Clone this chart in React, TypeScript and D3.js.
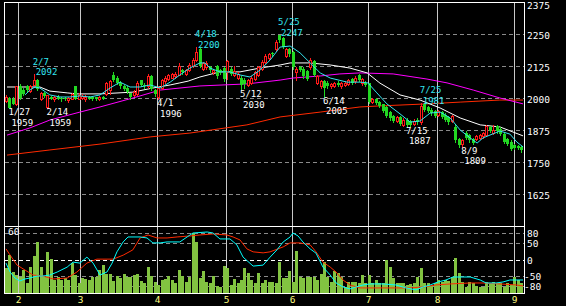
import React from "react";
import * as d3 from "d3";

const W = 566;
const H = 306;

const monthLabels = ["2", "3", "4", "5", "6", "7", "8", "9"];
const monthStartIdx = [3.5, 21.5, 43.7, 63.7, 82.8, 104.7, 124.7, 147];
const priceTicks = [2375, 2250, 2125, 2000, 1875, 1750, 1625];
const oscTicks = [80, 50, 0, -50, -80];

// [open, high, low, close]
const ohlc: number[][] = [
  [1990, 2010, 1985, 2005], [2000, 2002, 1959, 1962], [1998, 2005, 1975, 1978], [1975, 2048, 1972, 2045],
  [2045, 2055, 1995, 2000], [2030, 2040, 2010, 2015], [2045, 2050, 2025, 2030], [2028, 2050, 2025, 2045],
  [2052, 2092, 2050, 2070], [2072, 2075, 2030, 2035], [1995, 2025, 1992, 2020], [2020, 2022, 2004, 2008],
  [1965, 2012, 1959, 2010], [2005, 2008, 1995, 1998], [1995, 2008, 1990, 2005], [2005, 2010, 1995, 1998],
  [2000, 2003, 1990, 1995], [2000, 2002, 1993, 1995], [1992, 2005, 1985, 2000], [1998, 2020, 1995, 2015],
  [2045, 2048, 1995, 1998], [1998, 2020, 1995, 2010], [2000, 2015, 1998, 2008], [1998, 2010, 1990, 2005],
  [2005, 2008, 1995, 1998], [2002, 2005, 1993, 1996], [2002, 2005, 1992, 1995], [1995, 2008, 1992, 2003],
  [2005, 2008, 1995, 1998], [2015, 2062, 2012, 2060], [2030, 2072, 2015, 2068], [2088, 2100, 2068, 2070],
  [2080, 2085, 2055, 2060], [2060, 2065, 2040, 2045], [2045, 2050, 2030, 2035], [2040, 2045, 2018, 2022],
  [2018, 2020, 1998, 2005], [2012, 2030, 2008, 2025], [2015, 2065, 2010, 2060], [2070, 2072, 2045, 2050],
  [2050, 2058, 2040, 2045], [2045, 2094, 2040, 2085], [2085, 2090, 2030, 2035], [2030, 2035, 2008, 2015],
  [2005, 2045, 1996, 2040], [2040, 2075, 2035, 2070], [2065, 2085, 2060, 2080], [2075, 2095, 2070, 2090],
  [2080, 2098, 2078, 2092], [2085, 2100, 2080, 2095], [2090, 2135, 2088, 2125], [2110, 2115, 2095, 2100],
  [2095, 2115, 2090, 2110], [2110, 2135, 2105, 2130], [2125, 2155, 2120, 2150], [2150, 2200, 2145, 2178],
  [2190, 2195, 2120, 2125], [2115, 2140, 2110, 2135], [2120, 2145, 2115, 2138], [2120, 2125, 2100, 2108],
  [2100, 2115, 2095, 2110], [2125, 2130, 2080, 2085], [2110, 2115, 2095, 2100], [2118, 2120, 2068, 2075],
  [2100, 2150, 2075, 2145], [2115, 2120, 2090, 2095], [2090, 2125, 2085, 2105], [2080, 2100, 2075, 2095],
  [2080, 2085, 2030, 2050], [2070, 2080, 2040, 2055], [2050, 2075, 2045, 2070], [2060, 2085, 2055, 2080],
  [2075, 2105, 2070, 2100], [2090, 2125, 2085, 2120], [2115, 2150, 2110, 2140], [2140, 2170, 2135, 2165],
  [2155, 2175, 2150, 2170], [2175, 2180, 2165, 2170], [2190, 2225, 2185, 2220], [2245, 2247, 2220, 2225],
  [2235, 2240, 2195, 2200], [2165, 2195, 2160, 2190], [2190, 2195, 2165, 2170], [2180, 2185, 2115, 2120],
  [2100, 2120, 2070, 2115], [2120, 2125, 2105, 2110], [2115, 2120, 2080, 2085], [2105, 2110, 2070, 2075],
  [2120, 2155, 2115, 2150], [2145, 2150, 2085, 2090], [2060, 2090, 2055, 2085], [2045, 2070, 2040, 2065],
  [2065, 2070, 2005, 2040], [2060, 2065, 2040, 2045], [2045, 2060, 2040, 2055], [2048, 2062, 2042, 2058],
  [2060, 2065, 2045, 2050], [2045, 2062, 2040, 2058], [2050, 2068, 2045, 2060], [2055, 2075, 2050, 2070],
  [2075, 2080, 2055, 2060], [2065, 2085, 2060, 2080], [2090, 2095, 2065, 2070], [2060, 2080, 2050, 2075],
  [2060, 2065, 2045, 2050], [2058, 2060, 1980, 1985], [1985, 2000, 1980, 1995], [1995, 2000, 1975, 1980],
  [1985, 1990, 1965, 1970], [1975, 1978, 1945, 1950], [1965, 1970, 1925, 1930], [1945, 1950, 1915, 1920],
  [1930, 1935, 1905, 1910], [1912, 1930, 1905, 1925], [1925, 1930, 1895, 1900], [1895, 1920, 1890, 1915],
  [1915, 1920, 1887, 1895], [1910, 1915, 1890, 1895], [1898, 1918, 1893, 1912], [1915, 1920, 1900, 1905],
  [1905, 1981, 1900, 1970], [1975, 1980, 1950, 1955], [1965, 1970, 1945, 1950], [1955, 1960, 1935, 1940],
  [1950, 1955, 1925, 1930], [1935, 1955, 1930, 1950], [1945, 1950, 1920, 1925], [1935, 1940, 1910, 1915],
  [1925, 1930, 1900, 1905], [1910, 1935, 1905, 1930], [1885, 1900, 1830, 1835], [1840, 1845, 1810, 1815],
  [1820, 1840, 1809, 1835], [1865, 1870, 1840, 1845], [1855, 1860, 1830, 1835], [1838, 1842, 1820, 1825],
  [1840, 1855, 1835, 1850], [1845, 1860, 1840, 1855], [1850, 1868, 1845, 1862], [1855, 1895, 1850, 1890],
  [1885, 1890, 1868, 1872], [1865, 1895, 1860, 1875], [1890, 1895, 1865, 1870], [1880, 1885, 1855, 1860],
  [1860, 1865, 1825, 1830], [1840, 1845, 1815, 1820], [1830, 1835, 1795, 1800], [1815, 1820, 1800, 1805],
  [1812, 1818, 1800, 1805], [1808, 1812, 1790, 1795],
];

const volume: number[] = [
  25, 38, 21, 18, 16, 23, 10, 26, 37, 51, 26, 16, 41, 34, 13, 16, 13, 15, 13, 30,
  18, 10, 15, 14, 13, 16, 16, 23, 28, 19, 19, 12, 17, 15, 19, 16, 16, 18, 19, 12,
  10, 26, 17, 11, 8, 13, 14, 17, 13, 10, 23, 17, 11, 16, 60, 51, 15, 22, 11, 10,
  17, 7, 6, 27, 25, 8, 14, 10, 13, 25, 20, 13, 10, 20, 10, 13, 11, 11, 10, 31, 15,
  15, 22, 11, 42, 16, 15, 16, 16, 16, 13, 19, 31, 16, 11, 22, 20, 16, 6, 11, 11,
  11, 10, 18, 10, 18, 10, 13, 10, 10, 33, 26, 15, 10, 10, 10, 8, 9, 10, 16, 25,
  10, 10, 7, 10, 13, 11, 13, 12, 16, 35, 20, 11, 6, 11, 10, 7, 6, 6, 11, 9,
  11, 10, 10, 6, 10, 8, 16, 13, 10,
];

// moving averages, [day index, price]
const maShort: number[][] = [
  [5.5, 2012], [6.9, 2031], [8.4, 2043], [9.8, 2039], [12.7, 2012], [15.6, 2004], [18.5, 2004],
  [21.4, 2008], [24.3, 2004], [27.2, 2012], [30.1, 2039], [33, 2062], [35.9, 2043], [38.8, 2043],
  [41.7, 2051], [44.6, 2039], [47.5, 2062], [50.3, 2090], [53.2, 2117], [56.1, 2137], [57.6, 2137],
  [59, 2117], [61.9, 2102], [64.8, 2102], [67.7, 2090], [70.6, 2082], [73.5, 2109], [76.4, 2148],
  [79.3, 2199], [82.2, 2203], [85.1, 2176], [88, 2137], [90.9, 2098], [93.8, 2078], [98.7, 2062],
  [102.4, 2062], [104.7, 2059], [107.3, 2020], [110.2, 1977], [114, 1938], [116.9, 1906],
  [119.8, 1910], [122.7, 1941], [125.6, 1945], [128.5, 1922], [131.4, 1875], [134.3, 1844],
  [136.3, 1824], [138, 1844], [142.9, 1871], [145.8, 1859], [147.8, 1828], [149.6, 1809],
];
const maMid: number[][] = [
  [0.3, 2043], [9.8, 2043], [12.7, 2027], [17.7, 2020], [20.5, 2016], [27.2, 2016], [36.7, 2023],
  [42.5, 2039], [47.5, 2051], [50.3, 2059], [52.7, 2066], [56.1, 2082], [61.9, 2102], [67.7, 2102],
  [73.5, 2117], [79.3, 2129], [82.2, 2137], [88, 2137], [93.8, 2129], [99.5, 2117], [104.5, 2098],
  [108.2, 2058], [114, 2012], [119.8, 1992], [125.6, 1961], [131.4, 1922], [137.2, 1895],
  [142.9, 1887], [146.7, 1867], [149.6, 1852],
];
const maLong: number[][] = [
  [0.3, 1855], [6.9, 1883], [12.7, 1914], [21.4, 1945], [27.2, 1965], [36.7, 2000], [44.6, 2031],
  [56.1, 2047], [69.7, 2055], [79.3, 2070], [83, 2078], [90.9, 2086], [96.6, 2094], [102.4, 2098],
  [112, 2094], [121.8, 2074], [127.6, 2059], [135.2, 2031], [142.9, 2000], [149.6, 1977],
];
const maVeryLong: number[][] = [
  [0.3, 1777], [12.7, 1797], [27.2, 1820], [41.7, 1848], [53.2, 1863], [69.7, 1895], [79.3, 1926],
  [90.9, 1945], [102.4, 1965], [108.2, 1969], [121.8, 1977], [131.4, 1984], [142.9, 1992], [149.6, 1992],
];

// oscillators, [day index, value]
const oscCyan: number[][] = [
  [0, -10], [1.2, -37], [2.6, -55], [4, -64], [5.5, -58], [6.9, -55], [9, -49], [10.7, -49],
  [12.7, -46], [14.8, -37], [17.7, -22], [19.4, -7], [21.4, -10], [23.4, 8], [25.2, -10], [27.2, -46],
  [29.2, -37], [30.7, -10], [32.1, 24], [33.9, 54], [35.3, 69], [38.8, 69], [40.8, 66], [42.5, 51],
  [44.6, 51], [46.6, 54], [50.3, 54], [52.4, 69], [54.1, 81], [58.2, 84], [59.9, 81], [61.9, 63],
  [64.8, 63], [66.8, 45], [68.6, 8], [71.5, -19], [74.4, -16], [76.4, 8], [78.4, 30], [80.2, 54],
  [82.2, 69], [83, 81], [84.5, 72], [85.9, 54], [88, 33], [89.7, 20], [91.7, -22], [93.8, -46],
  [95.5, -70], [97.5, -82], [99.5, -88], [101.3, -82], [103.3, -76], [105.3, -73], [109.1, -73],
  [112.8, -76], [115.7, -85], [118.6, -91], [120.7, -82], [122.7, -76], [125, -67], [127.3, -61],
  [129.3, -52], [134.3, -52], [137.2, -61], [138.9, -70], [141.8, -70], [143.8, -67], [145.8, -61],
  [149.6, -61],
];
const oscRed: number[][] = [
  [0, 33], [1.2, 14], [3.2, -16], [5.5, -31], [7.8, -46], [10.7, -49], [13.6, -58], [17.7, -55],
  [20.5, -37], [23.4, -10], [26.3, 2], [31, 2], [33.9, 14], [36.7, 30], [38.8, 66], [41.1, 75],
  [43.7, 66], [46.6, 66], [49.5, 69], [53.2, 72], [56.1, 75], [59.9, 78], [63.9, 75], [65.7, 69],
  [67.7, 60], [69.7, 33], [71.5, 24], [74.4, 21], [76.4, 24], [80.2, 39], [82.2, 51], [85.1, 51],
  [88, 45], [89.7, 24], [91.7, -7], [93.8, -22], [95.5, -37], [97.5, -61], [99.5, -76], [102.4, -85],
  [109.1, -85], [116.9, -85], [120.7, -82], [124.4, -76], [128.5, -73], [134.3, -70], [138, -70],
  [142.9, -73], [147.6, -76], [149.6, -79],
];

// annotations: [date, price, day index, kind]
const notes: [string, number, number, string][] = [
  ["1/27", 1959, 1, "low"], ["2/7", 2092, 8, "high"], ["2/14", 1959, 12, "low"],
  ["4/1", 1996, 44, "low"], ["4/18", 2200, 55, "high"], ["5/12", 2030, 68, "low"],
  ["5/25", 2247, 79, "high"], ["6/14", 2005, 92, "low"], ["7/15", 1887, 116, "low"],
  ["7/25", 1981, 120, "high"], ["8/9", 1809, 132, "low"],
];

const FONT = "'DejaVu Sans Mono', monospace";
const UP = "#ff1a1a";
const DOWN = "#22d822";

export default function App() {
  const L = 4, R = 524, T = 2, MB = 226, B = 293;
  const x = d3.scaleLinear().domain([0, 149]).range([6, 521]);
  const y = d3.scaleLinear().domain([1500, 2375]).range([MB, T]);
  const yo = d3.scaleLinear().domain([-100, 100]).range([292.9, 226.7]);
  const yv = d3.scaleLinear().domain([0, 62]).range([B, 231]);

  const mkLine = (ys: d3.ScaleLinear<number, number>) =>
    d3.line<number[]>().x((d) => x(d[0])).y((d) => ys(d[1]));
  const pl = mkLine(y);
  const ol = mkLine(yo);

  const px = (i: number) => Math.round(x(i));

  return (
    <svg width={W} height={H} style={{ position: "absolute", left: 0, top: 0, background: "#000" }}>
      <rect x={0} y={0} width={W} height={H} fill="#000" />
      <g shapeRendering="crispEdges">
        {priceTicks.slice(1).map((p) => (
          <line key={p} x1={L + 1} x2={R} y1={Math.round(y(p)) + 0.5} y2={Math.round(y(p)) + 0.5}
            stroke="#8a8a8a" strokeDasharray="4,3" />
        ))}
        {oscTicks.map((v) => (
          <line key={v} x1={L + 1} x2={R} y1={Math.round(yo(v)) + 0.5} y2={Math.round(yo(v)) + 0.5}
            stroke={v === 0 ? "#ffffff" : "#8a8a8a"} strokeDasharray="4,3" />
        ))}
        {monthStartIdx.map((m, k) => (
          <line key={k} x1={px(m) + 0.5} x2={px(m) + 0.5} y1={T} y2={B} stroke="#c8c8c8" />
        ))}
      </g>

      {/* volume */}
      <g shapeRendering="crispEdges">
        {volume.map((v, i) => (
          <rect key={i} x={px(i) - 1} y={yv(v)} width={3} height={B - yv(v)} fill="#82c341" />
        ))}
      </g>
      <path d={ol(oscRed) || ""} fill="none" stroke="#ff2a00" strokeWidth={1} />
      <path d={ol(oscCyan) || ""} fill="none" stroke="#00ffff" strokeWidth={1} />

      {/* moving averages */}
      <g fill="none" strokeWidth={1}>
        <path d={pl(maVeryLong) || ""} stroke="#ff2a00" />
        <path d={pl(maLong) || ""} stroke="#ff00ff" />
        <path d={pl(maMid) || ""} stroke="#ffffff" />
      </g>

      {/* candles */}
      <g shapeRendering="crispEdges">
        {ohlc.map(([o, h, l, c], i) => {
          const cx = px(i);
          const up = c >= o;
          const top = Math.round(y(Math.max(o, c)));
          const bot = Math.round(y(Math.min(o, c)));
          const yh = Math.round(y(h));
          const yl = Math.round(y(l));
          if (up) {
            return (
              <g key={i} stroke={UP}>
                <line x1={cx + 0.5} x2={cx + 0.5} y1={yh} y2={top} />
                <line x1={cx + 0.5} x2={cx + 0.5} y1={bot} y2={yl + 1} />
                <rect x={cx - 0.5} y={top + 0.5} width={2} height={Math.max(bot - top, 1)} fill="#000" />
              </g>
            );
          }
          return (
            <g key={i}>
              <line x1={cx + 0.5} x2={cx + 0.5} y1={yh} y2={yl + 1} stroke={DOWN} />
              <rect x={cx - 1} y={top} width={3} height={Math.max(bot - top, 1)} fill={DOWN} />
            </g>
          );
        })}
      </g>
      <path d={pl(maShort) || ""} fill="none" stroke="#33e6f0" strokeWidth={1} />

      {/* annotations */}
      <g fontFamily={FONT} fontSize={9}>
        {notes.map(([d, v, i, kind]) => {
          const cx = x(i);
          const yy = y(v);
          const col = kind === "high" ? "#33e6f0" : "#ffffff";
          const yd = kind === "high" ? yy - 9.5 : yy + 7;
          const yvv = kind === "high" ? yy + 1 : yy + 17.5;
          return (
            <g key={d} fill={col}>
              <text x={cx - 1} y={yd}>{d}</text>
              <text x={cx + 2} y={yvv}>{v}</text>
            </g>
          );
        })}
      </g>

      {/* frame */}
      <g shapeRendering="crispEdges" fill="none" stroke="#ffffff">
        <rect x={L + 0.5} y={T + 0.5} width={R - L} height={B - T} />
        <line x1={L} x2={R + 1} y1={MB + 0.5} y2={MB + 0.5} />
      </g>

      {/* axis labels */}
      <g fontFamily={FONT} fontSize={9.5} fill="#ffffff">
        {priceTicks.map((p) => (
          <text key={p} x={527} y={Math.max(y(p) + 4.5, 8.5)}>{p}</text>
        ))}
        {oscTicks.map((v) => (
          <text key={v} x={v < 0 ? 524 : 527} y={yo(v) + 4}>{v}</text>
        ))}
        <text x={8} y={235}>60</text>
      </g>
      <g fontFamily={FONT} fontSize={9.5} fill="#ffff80" textAnchor="middle">
        {monthLabels.map((m, k) => (
          <text key={m} x={px(monthStartIdx[k]) + 0.5} y={302.5}>{m}</text>
        ))}
      </g>
    </svg>
  );
}
